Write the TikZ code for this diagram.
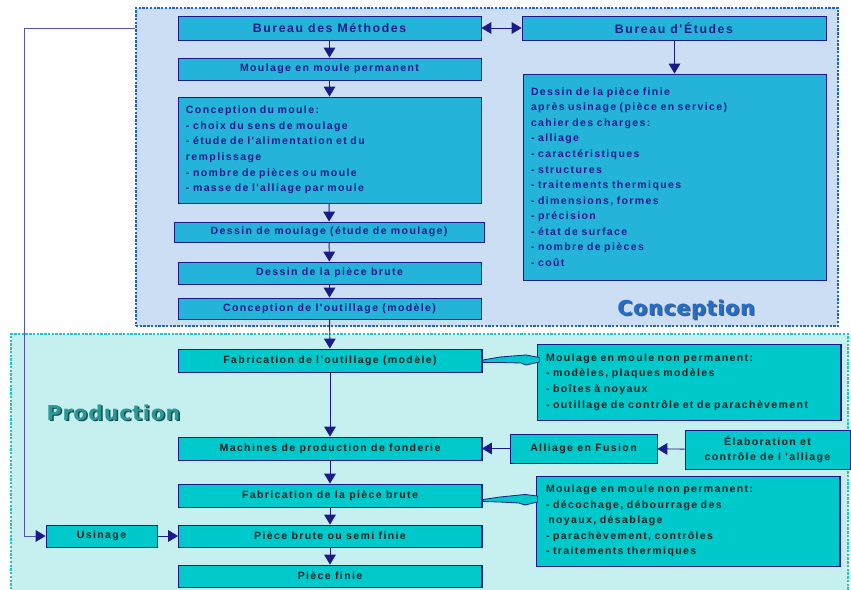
\documentclass[tikz,border=0pt]{standalone}
\usepackage{fontspec}
\setmainfont{Liberation Sans}
\newfontfamily\boxfont[LetterSpace=13]{Liberation Sans}
\newfontfamily\titlefont[LetterSpace=4]{DejaVu Sans}
\usetikzlibrary{arrows.meta,shadows}

\definecolor{boxblue}{HTML}{24B4DA}
\definecolor{boxteal}{HTML}{00C9CB}
\definecolor{navy}{HTML}{1A1A8A}
\definecolor{regblue}{HTML}{CCDEF3}
\definecolor{regteal}{HTML}{C6EFEF}
\definecolor{dotblue}{HTML}{1E64CC}
\definecolor{dotteal}{HTML}{22C4C8}
\definecolor{loopblue}{HTML}{5555B5}
\definecolor{prodtext}{HTML}{0A2222}
\definecolor{conctitle}{HTML}{1F6FCF}
\definecolor{prodtitle}{HTML}{2A9898}

\begin{document}
\begin{tikzpicture}[
        % 1 unit = 1 pixel of the sketch
        x=0.03cm, y=-0.03cm,
        % regions
        concregion/.style={
            draw=dotblue, fill=regblue,
            line width=2.2pt, dash pattern=on 2pt off 1.2pt,
            inner sep=0pt
        },
        prodregion/.style={
            draw=dotteal, fill=regteal,
            line width=2.2pt, dash pattern=on 2pt off 1.2pt,
            inner sep=0pt
        },
        % boxes
        boxshadow/.style={
            copy shadow={shadow xshift=0.8pt, shadow yshift=-0.8pt,
                draw=navy, fill=navy}
        },
        conbox/.style={
            boxshadow,
            draw=navy, fill=boxblue, line width=0.8pt,
            text=navy, inner sep=0pt,
            font=\boxfont\bfseries\fontsize{9}{13.3}\selectfont,
            minimum width=9.09cm, minimum height=0.66cm
        },
        conhead/.style={
            conbox,
            font=\boxfont\bfseries\fontsize{10.5}{13}\selectfont,
            minimum height=0.72cm
        },
        prodbox/.style={
            conbox, fill=boxteal, text=prodtext
        },
        listbox/.style={
            align=left, inner xsep=0.24cm, text width=8.61cm
        },
        % connectors
        flow/.style={
            draw=navy, line width=0.8pt,
            -{Triangle[width=10pt,length=8.5pt]}
        },
        twoway/.style={
            draw=navy, line width=0.8pt,
            {Triangle[width=10pt,length=8.5pt]}-{Triangle[width=10pt,length=8.5pt]}
        },
        loopline/.style={
            draw=loopblue, line width=0.8pt,
            -{Triangle[width=10pt,length=8.5pt,color=navy]}
        },
        callout/.style={
            draw=navy, fill=boxteal, line width=0.7pt, line join=round
        },
        % big titles
        bigtitle/.style={
            font=\titlefont\bfseries\fontsize{17.5}{20}\selectfont,
            anchor=base, inner sep=0pt
        }
    ]
    \clip (0,0) rectangle (851,589);
    \fill[white] (0,0) rectangle (851,589);

    % ==========================
    % regions
    % ==========================
    \node[prodregion, minimum width=25.11cm, minimum height=7.98cm] (prodreg) at (429.5,467) {};
    \node[concregion, minimum width=21.06cm, minimum height=9.54cm] (concreg) at (487,167) {};

    \node[bigtitle, text=gray!70!black] (concshadow) at (687.5,316.5) {Conception};
    \node[bigtitle, text=conctitle] (conctitle) at (686,315) {Conception};
    \node[bigtitle, text=prodtitle!50!black] (prodshadow) at (115,421.5) {Production};
    \node[bigtitle, text=prodtitle] (prodtitle) at (113.5,420) {Production};

    % ==========================
    % Conception
    % ==========================
    \node[conhead] (methodes) at (329.5,28) {Bureau des Méthodes};
    \node[conbox] (permanent) at (329.5,69) {Moulage en moule permanent};
    \node[conbox, listbox, minimum height=3.18cm] (concmoule) at (329.5,150) {%
        Conception du moule:\\
        - choix du sens de moulage\\
        - étude de l'alimentation et du\\
        remplissage\\
        - nombre de pièces ou moule\\
        - masse de l'alliage par moule};
    \node[conbox, minimum width=9.3cm, minimum height=0.6cm] (dessinmoul) at (329,232) {Dessin de moulage (étude de moulage)};
    \node[conbox] (brute) at (329.5,273) {Dessin de la pièce brute};
    \node[conbox, minimum height=0.63cm] (outillage) at (329.5,308.5) {Conception de l'outillage (modèle)};

    \node[conhead, minimum width=9.12cm] (etudes) at (674,28) {Bureau d'Études};
    \node[conbox, listbox, minimum height=6.18cm] (finie) at (674.5,177) {%
        Dessin de la pièce finie\\
        après usinage (pièce en service)\\
        cahier des charges:\\
        - alliage\\
        - caractéristiques\\
        - structures\\
        - traitements thermiques\\
        - dimensions, formes\\
        - précision\\
        - état de surface\\
        - nombre de pièces\\
        - coût};

    % ==========================
    % Production
    % ==========================
    \node[prodbox, minimum height=0.69cm] (fabout) at (330,360.5) {Fabrication de l'outillage (modèle)};
    \node[prodbox, listbox, inner xsep=0.21cm, text width=8.58cm, minimum height=2.28cm] (nonperm1) at (689,382) {%
        Moulage en moule non permanent:\\
        - modèles, plaques modèles\\
        - boîtes à noyaux\\
        - outillage de contrôle et de parachèvement};
    \node[prodbox, minimum height=0.69cm] (machines) at (330,448.5) {Machines de production de fonderie};
    \node[prodbox, minimum width=4.41cm, minimum height=0.87cm] (alliage) at (583.5,448.5) {Alliage en Fusion};
    \node[prodbox, align=center, minimum width=4.95cm, minimum height=1.17cm] (elab) at (767.5,449.5) {Élaboration et\\contrôle de l 'alliage};
    \node[prodbox, minimum height=0.69cm] (fabbrute) at (330,495.5) {Fabrication de la pièce brute};
    \node[prodbox, listbox, inner xsep=0.27cm, text width=8.52cm, minimum height=2.7cm] (nonperm2) at (688,521) {%
        Moulage en moule non permanent:\\
        - décochage, débourrage des\\
        \hspace{2pt}noyaux, désablage\\
        - parachèvement, contrôles\\
        - traitements thermiques};
    \node[prodbox, minimum height=0.66cm] (piecebrute) at (330,536) {Pièce brute ou semi finie};
    \node[prodbox, minimum width=3.33cm, minimum height=0.66cm] (usinage) at (101.5,536) {Usinage};
    \node[prodbox, minimum height=0.66cm] (piecefinie) at (330,576) {Pièce finie};

    % ==========================
    % connectors
    % ==========================
    \draw[flow] (methodes) -- (permanent);
    \draw[flow] (permanent) -- (concmoule);
    \draw[flow] (concmoule) -- (dessinmoul);
    \draw[flow] (dessinmoul) -- (brute);
    \draw[flow] (brute) -- (outillage);
    \draw[flow] (outillage) -- (fabout);
    \draw[flow] (fabout) -- (machines);
    \draw[flow] (machines) -- (fabbrute);
    \draw[flow] (fabbrute) -- (piecebrute);
    \draw[flow] (piecebrute) -- (piecefinie);
    \draw[twoway] (methodes) -- (etudes);
    \draw[flow] (etudes.south -| finie.north) -- (finie.north);
    \draw[flow] (alliage) -- (machines);
    \draw[flow] (elab) -- (alliage);
    \draw[flow] (usinage) -- (piecebrute);
    \draw[loopline] (concreg.west |- methodes.west) -- ++(-110,0) |- (usinage.west);

    % callout pointers
    \filldraw[callout] (483,360) -- (500,357) -- (526,355) -- (539.5,357.5)
        -- (539.5,362) -- (526,365) -- (521,363) -- (500,362.5) -- (483,362.5) -- cycle;
    \filldraw[callout] (483,499.5) -- (500,497) -- (525,494.5) -- (537.5,496)
        -- (537.5,502) -- (525,505) -- (519,503) -- (500,502) -- (483,501.5) -- cycle;

\end{tikzpicture}
\end{document}
